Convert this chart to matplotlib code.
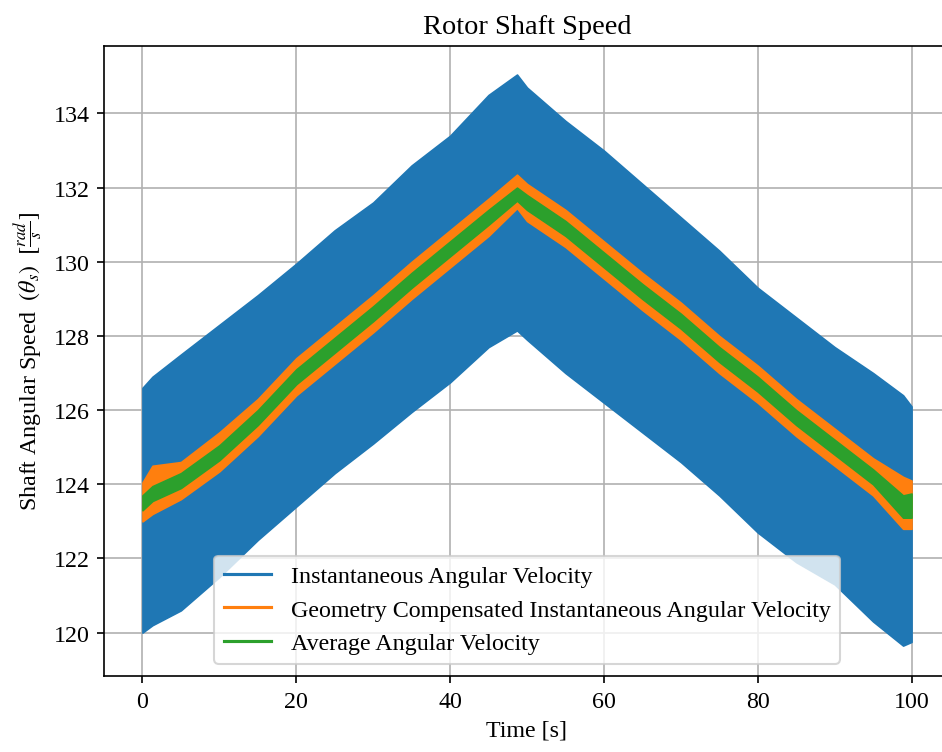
import matplotlib
matplotlib.use("Agg")
import matplotlib.pyplot as plt
from matplotlib.lines import Line2D

plt.rcParams["font.family"] = "serif"
plt.rcParams["font.serif"] = ["Liberation Serif", "DejaVu Serif"]
plt.rcParams["mathtext.fontset"] = "stix"
plt.rcParams["font.size"] = 11.5

t = [0, 1.3, 5, 10, 15, 20, 25, 30, 35, 40, 45, 48.7, 50, 55, 60, 65, 70, 75, 80, 85, 90, 95, 98.9, 100]

# instantaneous angular velocity - upper / lower envelope of the oscillation
inst_hi = [126.6, 126.9, 127.5, 128.3, 129.1, 129.95, 130.85, 131.6, 132.6, 133.4, 134.5, 135.05,
           134.7, 133.8, 133.0, 132.1, 131.2, 130.3, 129.3, 128.5, 127.7, 127.0, 126.4, 126.1]
inst_lo = [120.0, 120.2, 120.6, 121.5, 122.5, 123.4, 124.3, 125.1, 125.95, 126.75, 127.7, 128.15,
           127.9, 127.0, 126.2, 125.4, 124.6, 123.7, 122.7, 121.9, 121.3, 120.3, 119.65, 119.75]

# geometry compensated angular velocity - upper / lower envelope
comp_hi = [124.05, 124.5, 124.6, 125.4, 126.3, 127.4, 128.25, 129.1, 130.0, 130.85, 131.7, 132.35,
           132.1, 131.4, 130.55, 129.7, 128.9, 128.0, 127.2, 126.3, 125.5, 124.7, 124.2, 124.1]
comp_lo = [123.0, 123.2, 123.6, 124.35, 125.3, 126.4, 127.25, 128.1, 129.0, 129.85, 130.7, 131.45,
           131.1, 130.4, 129.55, 128.7, 127.9, 127.0, 126.2, 125.3, 124.5, 123.7, 122.8, 122.8]

# average angular velocity - upper / lower envelope
avg_hi = [123.7, 123.95, 124.3, 125.05, 126.0, 127.1, 127.95, 128.8, 129.7, 130.55, 131.4, 132.0,
          131.8, 131.1, 130.25, 129.4, 128.6, 127.7, 126.9, 126.0, 125.2, 124.4, 123.7, 123.75]
avg_lo = [123.3, 123.55, 123.9, 124.65, 125.6, 126.7, 127.55, 128.4, 129.3, 130.15, 131.0, 131.65,
          131.4, 130.7, 129.85, 129.0, 128.2, 127.3, 126.5, 125.6, 124.8, 124.0, 123.1, 123.1]

labels = ["Instantaneous Angular Velocity",
          "Geometry Compensated Instantaneous Angular Velocity",
          "Average Angular Velocity"]
colours = ["#1f77b4", "#ff7f0e", "#2ca02c"]

fig = plt.figure(figsize=(942 / 150, 753 / 150), dpi=150)
ax = fig.add_axes([104 / 942, 76 / 753, 846 / 942, 630 / 753])

ax.fill_between(t, inst_lo, inst_hi, color=colours[0], lw=0.8)
ax.fill_between(t, comp_lo, comp_hi, color=colours[1], lw=0.8)
ax.fill_between(t, avg_lo, avg_hi, color=colours[2], lw=0.8)

ax.set_xlim(-5, 105)
ax.set_ylim(118.83, 135.82)
ax.set_xticks([0, 20, 40, 60, 80, 100])
ax.set_yticks([120, 122, 124, 126, 128, 130, 132, 134])
ax.grid(True)
ax.set_axisbelow(True)

ax.set_title("Rotor Shaft Speed", fontsize=13.6)
ax.set_xlabel("Time [s]")
ax.set_ylabel(r"Shaft Angular Speed $\;(\theta_s)\;$ $[\frac{rad}{s}]$")

handles = [Line2D([], [], color=c, lw=1.5) for c in colours]
ax.legend(handles, labels, loc="lower center")

fig.savefig("out.png", dpi=150)
